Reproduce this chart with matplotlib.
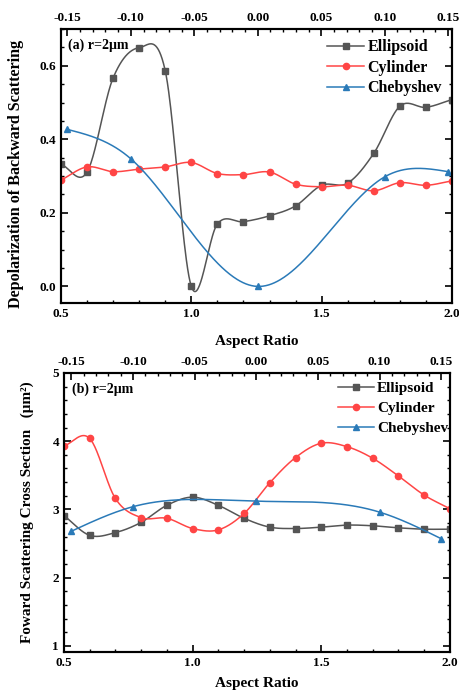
import numpy as np
import matplotlib
matplotlib.use("Agg")
import matplotlib.pyplot as plt
from matplotlib.lines import Line2D
from matplotlib.ticker import MultipleLocator

plt.rcParams['font.family'] = ['Liberation Serif', 'DejaVu Serif']
plt.rcParams['font.weight'] = 'bold'
plt.rcParams['axes.unicode_minus'] = False

# Aspect ratio (bottom axis) for ellipsoid and cylinder
aspect = [0.5, 0.6, 0.7, 0.8, 0.9, 1.0, 1.1, 1.2, 1.3, 1.4, 1.5, 1.6, 1.7, 1.8, 1.9, 2.0]
# Chebyshev deformation parameter (top axis)
cheb_dev = [-0.15, -0.10, 0.0, 0.10, 0.15]

# (a) Depolarization of backward scattering
dep_ellipsoid = [0.332, 0.311, 0.567, 0.649, 0.586, 0.0, 0.170, 0.176, 0.192, 0.219,
                 0.275, 0.281, 0.362, 0.490, 0.487, 0.508]
dep_cylinder = [0.289, 0.325, 0.312, 0.319, 0.325, 0.337, 0.307, 0.304, 0.311, 0.278,
                0.271, 0.275, 0.260, 0.282, 0.275, 0.287]
dep_cheb = [0.427, 0.347, 0.0, 0.298, 0.312]

# (b) Forward scattering cross section
fwd_ellipsoid = [2.91, 2.62, 2.66, 2.81, 3.06, 3.18, 3.06, 2.87, 2.74, 2.72,
                 2.74, 2.77, 2.76, 2.73, 2.71, 2.71]
fwd_cylinder = [3.93, 4.04, 3.16, 2.88, 2.87, 2.72, 2.70, 2.94, 3.39, 3.76,
                3.97, 3.92, 3.75, 3.49, 3.21, 3.01]
fwd_cheb = [2.68, 3.04, 3.12, 2.96, 2.57]

c_ell = '#555555'
c_cyl = '#ff4545'
c_cheb = '#2a7ab8'


def natural_spline(x, y, n=400):
    x = np.asarray(x, float)
    y = np.asarray(y, float)
    m = len(x)
    h = np.diff(x)
    A = np.zeros((m, m))
    r = np.zeros(m)
    A[0, 0] = A[-1, -1] = 1
    for i in range(1, m - 1):
        A[i, i - 1] = h[i - 1]
        A[i, i] = 2 * (h[i - 1] + h[i])
        A[i, i + 1] = h[i]
        r[i] = 6 * ((y[i + 1] - y[i]) / h[i] - (y[i] - y[i - 1]) / h[i - 1])
    M = np.linalg.solve(A, r)
    xs = np.linspace(x[0], x[-1], n)
    k = np.clip(np.searchsorted(x, xs) - 1, 0, m - 2)
    t0 = x[k + 1] - xs
    t1 = xs - x[k]
    hk = h[k]
    ys = (M[k] * t0 ** 3 + M[k + 1] * t1 ** 3) / (6 * hk) \
        + (y[k] / hk - M[k] * hk / 6) * t0 + (y[k + 1] / hk - M[k + 1] * hk / 6) * t1
    return xs, ys


def hermite_spline(x, y, n=600):
    # Catmull-Rom style curve through the points
    x = np.asarray(x, float)
    y = np.asarray(y, float)
    m = np.empty_like(y)
    m[1:-1] = (y[2:] - y[:-2]) / (x[2:] - x[:-2])
    m[0] = (y[1] - y[0]) / (x[1] - x[0])
    m[-1] = (y[-1] - y[-2]) / (x[-1] - x[-2])
    xs = np.linspace(x[0], x[-1], n)
    k = np.clip(np.searchsorted(x, xs) - 1, 0, len(x) - 2)
    h = x[k + 1] - x[k]
    t = (xs - x[k]) / h
    h00 = 2 * t ** 3 - 3 * t ** 2 + 1
    h10 = t ** 3 - 2 * t ** 2 + t
    h01 = -2 * t ** 3 + 3 * t ** 2
    h11 = t ** 3 - t ** 2
    ys = h00 * y[k] + h10 * h * m[k] + h01 * y[k + 1] + h11 * h * m[k + 1]
    return xs, ys


def draw(ax, x, y, color, marker, ms, curve):
    xs, ys = curve(x, y)
    ax.plot(xs, ys, color=color, lw=1.1)
    ax.plot(x, y, ls='none', marker=marker, ms=ms, color=color)


def style(ax, ax2, ymajor, yminor, ylim, top_lim):
    ax.set_xlim(0.5, 2.0)
    ax.set_ylim(*ylim)
    ax2.set_xlim(*top_lim)
    ax.xaxis.set_major_locator(MultipleLocator(0.5))
    ax.xaxis.set_minor_locator(MultipleLocator(0.1))
    ax.yaxis.set_major_locator(MultipleLocator(ymajor))
    ax.yaxis.set_minor_locator(MultipleLocator(yminor))
    ax2.xaxis.set_major_locator(MultipleLocator(0.05))
    ax2.xaxis.set_minor_locator(MultipleLocator(0.01))
    ax.tick_params(which='both', direction='in', top=False, right=True, labelsize=9.5, width=1.2)
    ax.tick_params(which='major', length=5)
    ax.tick_params(which='minor', length=2.5, width=1.0)
    ax2.tick_params(which='both', direction='in', labelsize=9.5, width=1.2)
    ax2.tick_params(which='major', length=5)
    ax2.tick_params(which='minor', length=2.5, width=1.0)
    for a in (ax, ax2):
        for s in a.spines.values():
            s.set_linewidth(1.5)
    for lab in ax.get_xticklabels() + ax.get_yticklabels() + ax2.get_xticklabels():
        lab.set_fontweight('bold')


fig = plt.figure(figsize=(4.6, 6.93), dpi=100)

handles = [
    Line2D([], [], color=c_ell, lw=1.1, marker='s', ms=4, label='Ellipsoid'),
    Line2D([], [], color=c_cyl, lw=1.1, marker='o', ms=4.5, label='Cylinder'),
    Line2D([], [], color=c_cheb, lw=1.1, marker='^', ms=5, label='Chebyshev'),
]

# ---- panel (a)
ax = fig.add_axes([0.1326, 0.5628, 0.85, 0.3954])
ax2 = ax.twiny()
draw(ax, aspect, dep_ellipsoid, c_ell, 's', 4, hermite_spline)
draw(ax, aspect, dep_cylinder, c_cyl, 'o', 4.5, hermite_spline)
draw(ax2, cheb_dev, dep_cheb, c_cheb, '^', 5, natural_spline)
style(ax, ax2, 0.2, 0.05, (-0.045, 0.7), (-0.155, 0.153))
ax.set_xlabel('Aspect Ratio', fontsize=11, fontweight='bold', labelpad=11)
ax.set_ylabel('Depolarization of Backward Scattering', fontsize=11.6, fontweight='bold')
ax.yaxis.set_label_coords(-0.094, 0.47)
ax2.text(0.018, 0.965, '(a) r=2μm', transform=ax2.transAxes, fontsize=10,
         fontweight='bold', va='top', ha='left')
ax2.legend(handles=handles, loc='upper right', frameon=False,
           handlelength=2.3, handletextpad=0.2, labelspacing=0.28,
           borderaxespad=0.25, prop={'weight': 'bold', 'size': 11.5})

# ---- panel (b)
bx = fig.add_axes([0.139, 0.0592, 0.839, 0.4026])
bx2 = bx.twiny()
draw(bx, aspect, fwd_ellipsoid, c_ell, 's', 4, hermite_spline)
draw(bx, aspect, fwd_cylinder, c_cyl, 'o', 4.5, hermite_spline)
draw(bx2, cheb_dev, fwd_cheb, c_cheb, '^', 5, natural_spline)
style(bx, bx2, 1, 0.2, (0.91, 5.0), (-0.156, 0.157))
bx.set_xlabel('Aspect Ratio', fontsize=11, fontweight='bold', labelpad=6)
bx.set_ylabel('Foward Scattering Cross Section   (μm²)', fontsize=11, fontweight='bold')
bx.yaxis.set_label_coords(-0.078, 0.5)
bx2.text(0.022, 0.965, '(b) r=2μm', transform=bx2.transAxes, fontsize=10,
         fontweight='bold', va='top', ha='left')
bx2.legend(handles=handles, loc='upper right', frameon=False,
           bbox_to_anchor=(1.008, 0.985),
           handlelength=2.4, handletextpad=0.2, labelspacing=0.4,
           borderaxespad=0.0, borderpad=0.3, prop={'weight': 'bold', 'size': 11})

fig.savefig('out.png', dpi=100)
